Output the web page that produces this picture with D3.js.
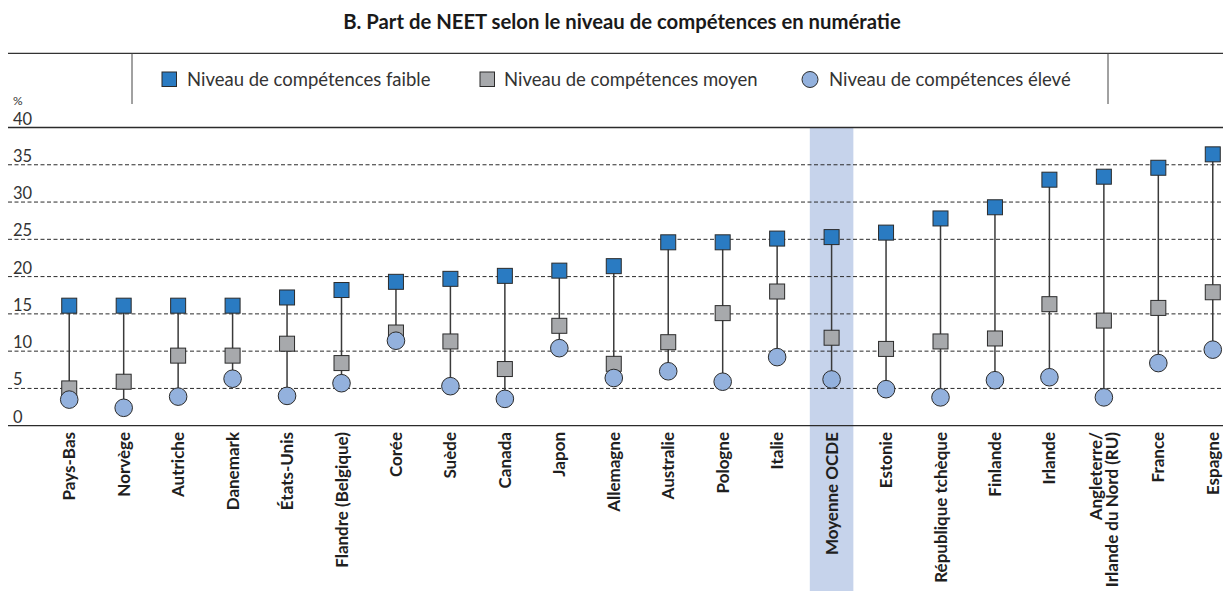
<!DOCTYPE html>
<html>
<head>
<meta charset="utf-8">
<script src="https://cdn.jsdelivr.net/npm/d3@7"></script>
<style>
  html, body { margin: 0; padding: 0; background: #fff; }
  svg { display: block; }
</style>
</head>
<body>
<svg id="chart" width="1223" height="591"></svg>
<script>
// Part des NEET selon le niveau de compétences en numératie (%)
const categories = ["Pays-Bas", "Norvège", "Autriche", "Danemark", "États-Unis", "Flandre (Belgique)",
  "Corée", "Suède", "Canada", "Japon", "Allemagne", "Australie", "Pologne", "Italie", "Moyenne OCDE",
  "Estonie", "République tchèque", "Finlande", "Irlande", "Angleterre/Irlande du Nord (RU)", "France", "Espagne"];
const lowSkill = [16.1, 16.1, 16.1, 16.1, 17.2, 18.2, 19.3, 19.7, 20.1, 20.8, 21.4, 24.6, 24.6, 25.1, 25.3,
  25.9, 27.8, 29.3, 33.0, 33.4, 34.6, 36.4];
const midSkill = [5.0, 5.9, 9.4, 9.4, 11.0, 8.4, 12.5, 11.3, 7.6, 13.4, 8.3, 11.2, 15.1, 18.0, 11.8,
  10.3, 11.3, 11.7, 16.3, 14.1, 15.8, 17.9];
const highSkill = [3.5, 2.4, 3.9, 6.3, 4.0, 5.7, 11.4, 5.3, 3.6, 10.4, 6.4, 7.3, 5.9, 9.2, 6.2,
  4.9, 3.8, 6.1, 6.5, 3.8, 8.4, 10.2];
const yTicks = [0, 5, 10, 15, 20, 25, 30, 35, 40];
const highlighted = "Moyenne OCDE";
const seriesNames = ["Niveau de compétences faible", "Niveau de compétences moyen", "Niveau de compétences élevé"];

const colors = { low: "#2a7bc2", mid: "#a7a9ac", high: "#93b1dd", stroke: "#2b2b2b", band: "#c6d3eb" };
const font = "Lato, 'Noto Sans', sans-serif";

const svg = d3.select("#chart");
const W = 1223, H = 591;

const x = d3.scaleBand().domain(categories).range([42, 1240]).paddingInner(0.2).paddingOuter(0.1);
const y = d3.scaleLinear().domain([0, 40]).range([425.7, 127.5]);
const cx = d => x(d) + x.bandwidth() / 2;

// Title
svg.append("text")
  .attr("x", 622).attr("y", 29)
  .attr("text-anchor", "middle")
  .attr("font-family", font).attr("font-weight", "bold").attr("font-size", 20.3)
  .attr("fill", "#1a1a1a")
  .text("B. Part de NEET selon le niveau de compétences en numératie");

// Frame line above the legend and legend separators
svg.append("line").attr("x1", 8).attr("x2", W).attr("y1", 53.3).attr("y2", 53.3)
  .attr("stroke", "#333").attr("stroke-width", 1.2);
[132, 1108].forEach(px => {
  svg.append("line").attr("x1", px).attr("x2", px).attr("y1", 53.3).attr("y2", 104)
    .attr("stroke", "#444").attr("stroke-width", 1);
});

// Highlighted OECD average band
svg.append("rect")
  .attr("x", x(highlighted)).attr("y", y(40))
  .attr("width", x.bandwidth()).attr("height", H - y(40))
  .attr("fill", colors.band);

// Gridlines
svg.append("g").selectAll("line").data(yTicks).join("line")
  .attr("x1", 8).attr("x2", W)
  .attr("y1", d => y(d)).attr("y2", d => y(d))
  .attr("stroke", "#2b2b2b")
  .attr("stroke-width", d => (d === 0 || d === 40) ? 1.3 : 1)
  .attr("stroke-dasharray", d => (d === 0 || d === 40) ? null : "4,2.5");

// Y tick labels sit above their gridline
svg.append("g").selectAll("text").data(yTicks).join("text")
  .attr("x", 13).attr("y", d => y(d) - 3)
  .attr("font-family", font).attr("font-size", 16.5)
  .attr("fill", "#333")
  .text(d => d);
svg.append("text").attr("x", 13).attr("y", 105)
  .attr("font-family", font).attr("font-size", 12).attr("fill", "#333").text("%");

// Connector lines from the highest to the lowest value
const rows = categories.map((c, i) => ({ c, low: lowSkill[i], mid: midSkill[i], high: highSkill[i] }));
svg.append("g").selectAll("line").data(rows).join("line")
  .attr("x1", d => cx(d.c)).attr("x2", d => cx(d.c))
  .attr("y1", d => y(Math.max(d.low, d.mid, d.high)))
  .attr("y2", d => y(Math.min(d.low, d.mid, d.high)))
  .attr("stroke", "#3a3a3a").attr("stroke-width", 1.5);

const sq = 15, r = 8.8;
// Medium skill squares
svg.append("g").selectAll("rect").data(rows).join("rect")
  .attr("x", d => cx(d.c) - sq / 2).attr("y", d => y(d.mid) - sq / 2)
  .attr("width", sq).attr("height", sq)
  .attr("fill", colors.mid).attr("stroke", colors.stroke).attr("stroke-width", 1);
// High skill circles
svg.append("g").selectAll("circle").data(rows).join("circle")
  .attr("cx", d => cx(d.c)).attr("cy", d => y(d.high)).attr("r", r)
  .attr("fill", colors.high).attr("stroke", colors.stroke).attr("stroke-width", 1);
// Low skill squares
svg.append("g").selectAll("rect").data(rows).join("rect")
  .attr("x", d => cx(d.c) - sq / 2).attr("y", d => y(d.low) - sq / 2)
  .attr("width", sq).attr("height", sq)
  .attr("fill", colors.low).attr("stroke", colors.stroke).attr("stroke-width", 1);

// Category labels, rotated, reading upward
const labels = svg.append("g");
rows.forEach(d => {
  const parts = d.c === "Angleterre/Irlande du Nord (RU)" ? ["Angleterre/", "Irlande du Nord (RU)"] : [d.c];
  const t = labels.append("text")
    .attr("transform", `translate(${cx(d.c)},432) rotate(-90)`)
    .attr("text-anchor", "end")
    .attr("font-family", font).attr("font-weight", "bold").attr("font-size", 17)
    .attr("fill", "#1f1f1f");
  const lh = 15.5;
  const first = -(parts.length - 1) * lh / 2 + 6;
  parts.forEach((p, k) => {
    t.append("tspan").attr("x", 0).attr("y", first + k * lh).text(p);
  });
});

// Legend
const lg = svg.append("g").attr("font-family", font).attr("font-size", 18.5).attr("fill", "#333");
lg.append("rect").attr("x", 162).attr("y", 72).attr("width", 14.5).attr("height", 14.5)
  .attr("fill", colors.low).attr("stroke", colors.stroke);
lg.append("text").attr("x", 187).attr("y", 86).text(seriesNames[0]);
lg.append("rect").attr("x", 480).attr("y", 72).attr("width", 14.5).attr("height", 14.5)
  .attr("fill", colors.mid).attr("stroke", colors.stroke);
lg.append("text").attr("x", 504).attr("y", 86).text(seriesNames[1]);
lg.append("circle").attr("cx", 810).attr("cy", 79.5).attr("r", 8)
  .attr("fill", colors.high).attr("stroke", colors.stroke);
lg.append("text").attr("x", 829).attr("y", 86).text(seriesNames[2]);
</script>
</body>
</html>
